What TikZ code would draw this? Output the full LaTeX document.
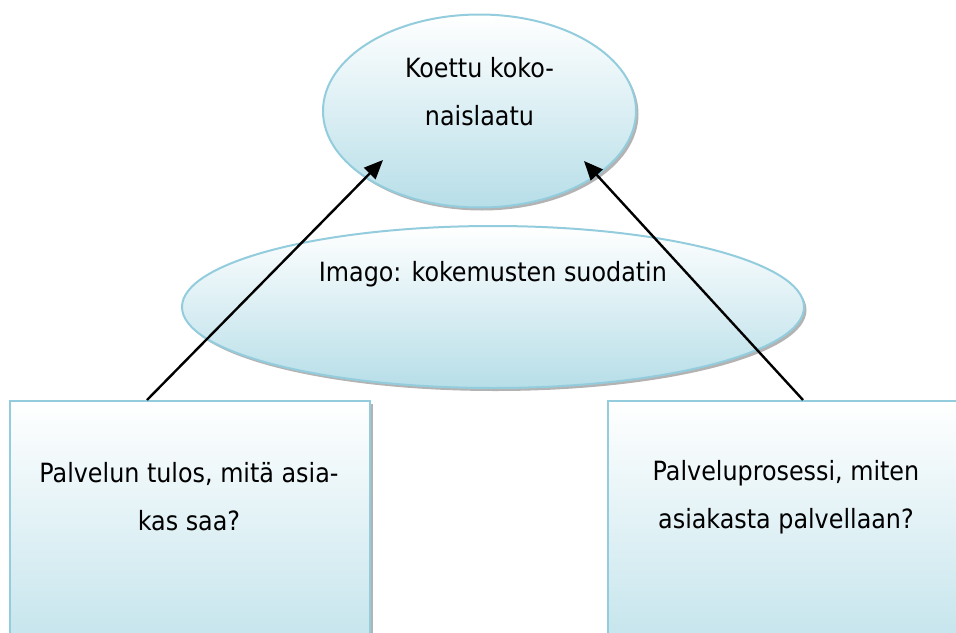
\documentclass[tikz,border=0pt]{standalone}
\usepackage{fontspec}
\setmainfont{DejaVu Sans Condensed}
\usetikzlibrary{arrows.meta,shapes.geometric,shadows}
\definecolor{edgeblue}{HTML}{93CDDD}
\definecolor{fillblue}{HTML}{B7DEE8}
\tikzset{
  shaded/.style={draw=edgeblue, line width=2pt, top color=white, bottom color=fillblue,
     drop shadow={shadow xshift=2.5pt, shadow yshift=-3pt, opacity=0.6, fill=gray}},
  oval/.style={shaded, ellipse, inner sep=0pt},
  boxnode/.style={shaded, rectangle, inner sep=0pt, anchor=north west},
  txt/.style={font=\fontsize{26.5}{48}\selectfont, align=center, inner sep=0pt},
  arr/.style={line width=2.4pt, -{Triangle[length=19pt,width=16pt]}},
}
\begin{document}
\begin{tikzpicture}[x=1pt,y=-1pt]
\useasboundingbox (0,0) rectangle (956,632);
\clip (0,0) rectangle (956,632);
% boxes
\node[boxnode, minimum width=360pt, minimum height=300pt] (lbox) at (9,400) {};
\node[boxnode, minimum width=360pt, minimum height=300pt] (rbox) at (607,400) {};
% middle ellipse
\node[oval, minimum width=622pt, minimum height=162pt] (imago) at (493,307) {};
% top ellipse
\node[oval, minimum width=313pt, minimum height=193pt] (top) at (479.5,111) {};
% texts
\node[txt] (ttop) at (479.5,92) {Koettu koko-\\naislaatu};
\node[txt] (timago) at (493,274) {Imago: kokemusten suodatin};
\node[txt] (tleft) at (189,497) {Palvelun tulos, mitä asia-\\kas saa?};
\node[txt] (tright) at (786,497) {Palveluprosessi, miten\\asiakasta palvellaan?};
% arrow tips
\coordinate (lt) at (383,160);
\coordinate (rt) at (584,161);
\draw[arr] (lbox.north west) ++(138,0) coordinate (ls) (ls) -- (lt);
\draw[arr] (rbox.north west) ++(196,0) coordinate (rs) (rs) -- (rt);
\end{tikzpicture}
\end{document}
